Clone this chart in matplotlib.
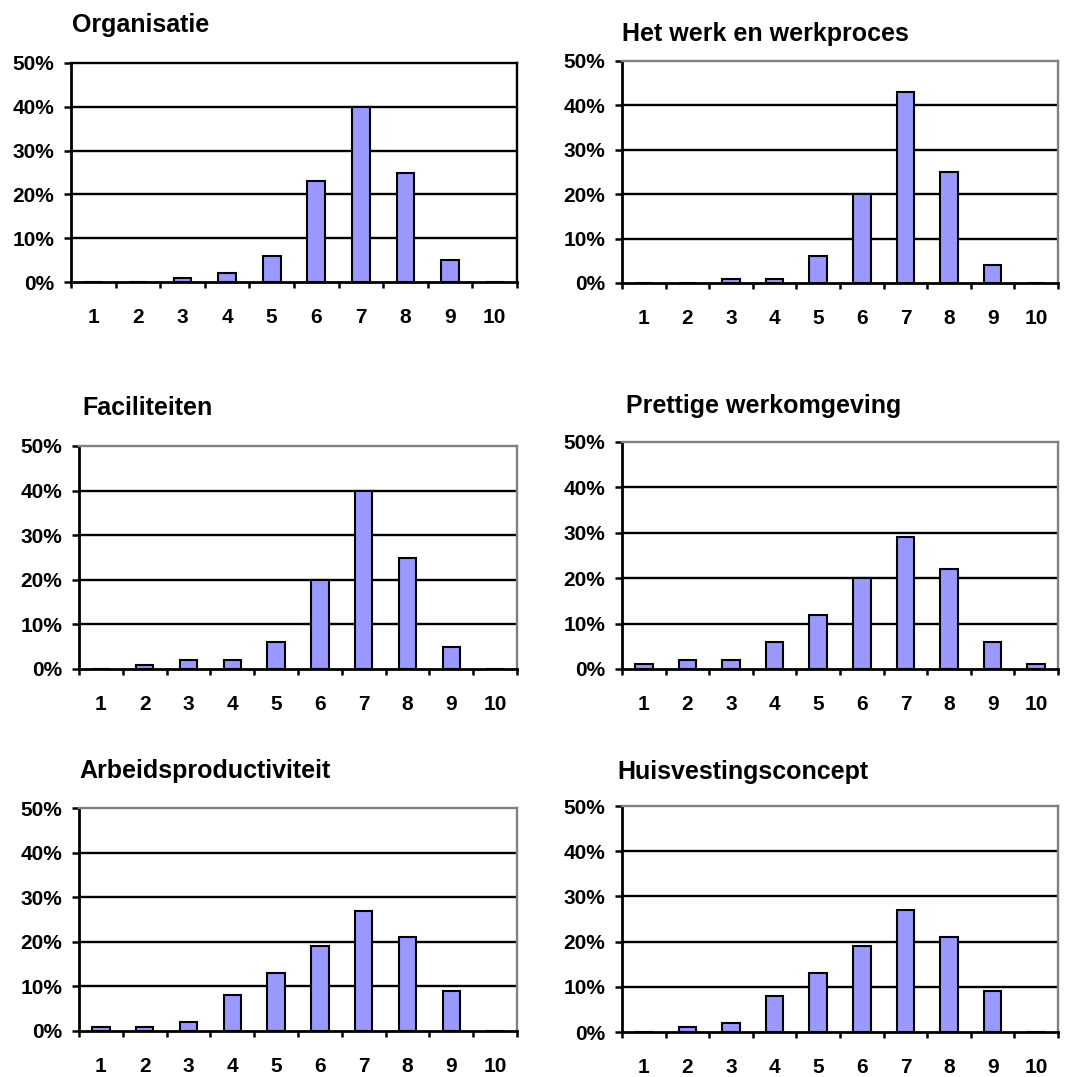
"""
Score distributions (1-10) for six survey themes, drawn as a 3x2 grid of bar charts
"""
import numpy as np
import matplotlib
matplotlib.use("Agg")
import matplotlib.pyplot as plt
from matplotlib.ticker import FixedLocator, PercentFormatter

plt.rcParams["font.family"] = ["Liberation Sans", "DejaVu Sans"]
plt.rcParams["font.weight"] = "bold"

scores = ["1", "2", "3", "4", "5", "6", "7", "8", "9", "10"]

organisatie = [0, 0, 1, 2, 6, 23, 40, 25, 5, 0]
werkproces = [0, 0, 1, 1, 6, 20, 43, 25, 4, 0]
faciliteiten = [0, 1, 2, 2, 6, 20, 40, 25, 5, 0]
werkomgeving = [1, 2, 2, 6, 12, 20, 29, 22, 6, 1]
productiviteit = [1, 1, 2, 8, 13, 19, 27, 21, 9, 0]
huisvesting = [0, 1, 2, 8, 13, 19, 27, 21, 9, 0]

titles = ["Organisatie", "Het werk en werkproces", "Faciliteiten",
          "Prettige werkomgeving", "Arbeidsproductiviteit", "Huisvestingsconcept"]
series = [organisatie, werkproces, faciliteiten,
          werkomgeving, productiviteit, huisvesting]

W, H = 1083, 1077

# plot boxes in pixels: left, right, top, bottom
boxes = [(71, 517, 63, 282), (622, 1058, 61, 283),
         (79, 517, 446, 669), (622, 1058, 442, 669),
         (79, 517, 808, 1031), (622, 1058, 806, 1032)]
# title anchor in pixels: left x, baseline y
title_pos = [(72, 32), (622, 41), (82, 415), (626, 413), (79, 778), (617, 779)]
frame_col = ["black", "#808080", "#808080", "#808080", "#808080", "#808080"]

fig = plt.figure(figsize=(W / 100, H / 100), dpi=100)

for i in range(6):
    l, r, t, b = boxes[i]
    ax = fig.add_axes([l / W, 1 - b / H, (r - l) / W, (b - t) / H])
    x = np.arange(len(scores))
    ax.bar(x, series[i], width=0.4, color="#9999FF", edgecolor="black",
           linewidth=1.5, zorder=2)

    ax.set_xlim(-0.5, len(scores) - 0.5)
    ax.set_ylim(0, 50)
    ax.set_yticks([0, 10, 20, 30, 40, 50])
    ax.yaxis.set_major_formatter(PercentFormatter(decimals=0))
    for y in [10, 20, 30, 40]:
        ax.axhline(y, color="black", linewidth=1.7, zorder=1)

    ax.set_xticks(x)
    ax.set_xticklabels(scores)
    ax.xaxis.set_minor_locator(FixedLocator(np.arange(-0.5, len(scores), 1.0)))
    ax.tick_params(axis="x", which="major", length=0, pad=19, labelsize=15)
    ax.tick_params(axis="x", which="minor", length=4, width=1.8, direction="out")
    ax.tick_params(axis="y", length=5, width=1.8, direction="out", pad=7,
                   labelsize=15)
    for lab in ax.get_xticklabels() + ax.get_yticklabels():
        lab.set_fontweight("bold")

    ax.spines["left"].set_linewidth(2)
    ax.spines["bottom"].set_linewidth(2)
    ax.spines["top"].set_color(frame_col[i])
    ax.spines["right"].set_color(frame_col[i])
    ax.spines["top"].set_linewidth(1.7)
    ax.spines["right"].set_linewidth(1.7)
    for s in ax.spines.values():
        s.set_zorder(3)

    tx, ty = title_pos[i]
    fig.text(tx / W, 1 - ty / H, titles[i], fontsize=18, fontweight="bold",
             ha="left", va="baseline")

fig.savefig("out.png", dpi=100, facecolor="white")
